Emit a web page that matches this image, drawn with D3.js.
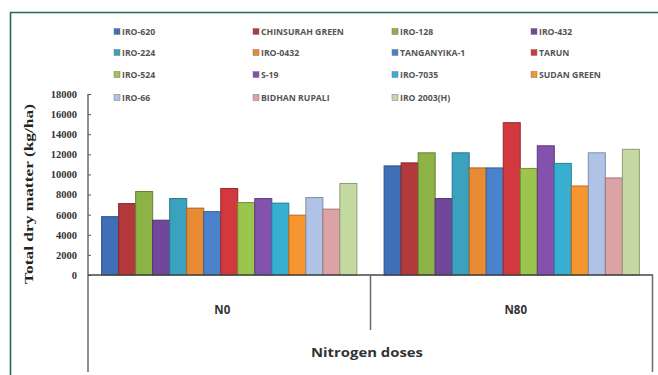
<!DOCTYPE html>
<html>
<head>
<meta charset="utf-8">
<script src="https://cdn.jsdelivr.net/npm/d3@7"></script>
<style>
  html, body { margin: 0; padding: 0; background: #fff; }
  svg { display: block; }
</style>
</head>
<body>
<svg id="chart" width="658" height="375"></svg>
<script>
// Nitrogen dose groups on the category axis
const doses = ["N0", "N80"];

// Cultivars, in bar / legend order
const cultivars = [
  "IRO-620", "CHINSURAH GREEN", "IRO-128", "IRO-432",
  "IRO-224", "IRO-0432", "TANGANYIKA-1", "TARUN",
  "IRO-524", "S-19", "IRO-7035", "SUDAN GREEN",
  "IRO-66", "BIDHAN RUPALI", "IRO 2003(H)"
];

// Total dry matter (kg/ha) per cultivar
const valuesN0 = [5800, 7100, 8300, 5450, 7600, 6650, 6300, 8600, 7200, 7600, 7150, 5950, 7700, 6550, 9100];
const valuesN80 = [10850, 11150, 12150, 7600, 12150, 10650, 10650, 15150, 10600, 12850, 11100, 8850, 12150, 9650, 12500];

// Y axis ticks
const yTicks = [0, 2000, 4000, 6000, 8000, 10000, 12000, 14000, 16000, 18000];

// Series fill colours
const colors = [
  "#3f6fb6", "#b4393b", "#8db246", "#70479a",
  "#3aa1be", "#e98b34", "#4a82cc", "#d2393f",
  "#9cc54e", "#8352ad", "#37afd0", "#f7962e",
  "#afc3e6", "#dba3a6", "#c5d9a3"
];

const svg = d3.select("#chart");

// Outer frame
svg.append("path")
  .attr("d", "M10.5,375 L10.5,12.5 L658,12.5")
  .attr("fill", "none")
  .attr("stroke", "#2a6a4c")
  .attr("stroke-width", 1.6);

const plot = { left: 88, right: 653, top: 94, bottom: 275 };

const x0 = d3.scaleBand().domain(doses).range([plot.left, plot.right]);
const x1 = d3.scaleBand().domain(cultivars).range([0, x0.bandwidth()])
  .paddingInner(0).paddingOuter(0.8);
const y = d3.scaleLinear().domain([0, 18000]).range([plot.bottom, plot.top]);

const data = doses.map((d, i) => ({
  dose: d,
  values: (i === 0 ? valuesN0 : valuesN80).map((v, j) => ({ name: cultivars[j], value: v, k: j }))
}));

// Bars
const g = svg.append("g");
g.selectAll("g.grp").data(data).join("g")
  .attr("class", "grp")
  .attr("transform", d => `translate(${x0(d.dose)},0)`)
  .selectAll("rect").data(d => d.values).join("rect")
  .attr("x", d => x1(d.name))
  .attr("y", d => y(d.value))
  .attr("width", x1.bandwidth())
  .attr("height", d => y(0) - y(d.value))
  .attr("fill", d => colors[d.k])
  .attr("stroke", d => d3.color(colors[d.k]).darker(0.9))
  .attr("stroke-width", 1);

// Y axis
const yAxis = d3.axisLeft(y).tickValues(yTicks).tickSize(-3).tickPadding(11)
  .tickFormat(d3.format("d"));
const ya = svg.append("g").attr("transform", `translate(${plot.left},0)`).call(yAxis);
ya.select(".domain").remove();
ya.selectAll(".tick line").attr("stroke", "#555");
ya.selectAll("text")
  .attr("font-family", "Liberation Serif, serif")
  .attr("font-weight", "bold")
  .attr("font-size", 10.5)
  .attr("fill", "#333");

// Axis lines, with the multi-level category dividers
const lineColor = "#6a6a6a";
svg.append("line").attr("x1", plot.left).attr("x2", plot.left)
  .attr("y1", plot.top).attr("y2", 372).attr("stroke", lineColor).attr("stroke-width", 1.5);
svg.append("line").attr("x1", plot.left).attr("x2", plot.right)
  .attr("y1", plot.bottom).attr("y2", plot.bottom).attr("stroke", "#444").attr("stroke-width", 1.5);
svg.append("line").attr("x1", x0("N80")).attr("x2", x0("N80"))
  .attr("y1", plot.bottom).attr("y2", 330).attr("stroke", lineColor).attr("stroke-width", 1.5);
svg.append("line").attr("x1", plot.right - 0.5).attr("x2", plot.right - 0.5)
  .attr("y1", plot.bottom).attr("y2", 372).attr("stroke", lineColor).attr("stroke-width", 1.5);

// Category labels
const catShift = { N0: -7, N80: 4 };
svg.selectAll("text.cat").data(doses).join("text")
  .attr("class", "cat")
  .attr("x", d => x0(d) + x0.bandwidth() / 2 + catShift[d])
  .attr("y", 314)
  .attr("text-anchor", "middle")
  .attr("font-family", "Open Sans, sans-serif")
  .attr("font-weight", "bold")
  .attr("font-size", 11.5)
  .attr("fill", "#333")
  .text(d => d);

// X axis title
svg.append("text")
  .attr("x", 367).attr("y", 357)
  .attr("text-anchor", "middle")
  .attr("font-family", "Open Sans, sans-serif")
  .attr("font-weight", "bold")
  .attr("font-size", 13)
  .attr("textLength", 112)
  .attr("lengthAdjust", "spacingAndGlyphs")
  .attr("fill", "#333")
  .text("Nitrogen doses");

// Y axis title
svg.append("text")
  .attr("transform", "translate(33,194) rotate(-90)")
  .attr("text-anchor", "middle")
  .attr("font-family", "Liberation Serif, serif")
  .attr("font-weight", "bold")
  .attr("font-size", 13)
  .attr("textLength", 180)
  .attr("lengthAdjust", "spacingAndGlyphs")
  .attr("fill", "#222")
  .text("Total dry matter (kg/ha)");

// Legend: four columns, row by row
const legend = svg.append("g");
const colX = [114, 253, 392, 531];
const rowY = [32, 53, 75, 98];
const items = legend.selectAll("g").data(cultivars).join("g")
  .attr("transform", (d, i) => `translate(${colX[i % 4]},${rowY[Math.floor(i / 4)]})`);
items.append("rect")
  .attr("x", 0).attr("y", -3.5).attr("width", 6).attr("height", 6)
  .attr("fill", (d, i) => colors[i])
  .attr("stroke", "#777").attr("stroke-width", 0.5);
items.append("text")
  .attr("x", 8).attr("y", 3)
  .attr("font-family", "Open Sans, sans-serif")
  .attr("font-weight", "bold")
  .attr("font-size", 8.7)
  .attr("fill", "#555")
  .text(d => d);
</script>
</body>
</html>
